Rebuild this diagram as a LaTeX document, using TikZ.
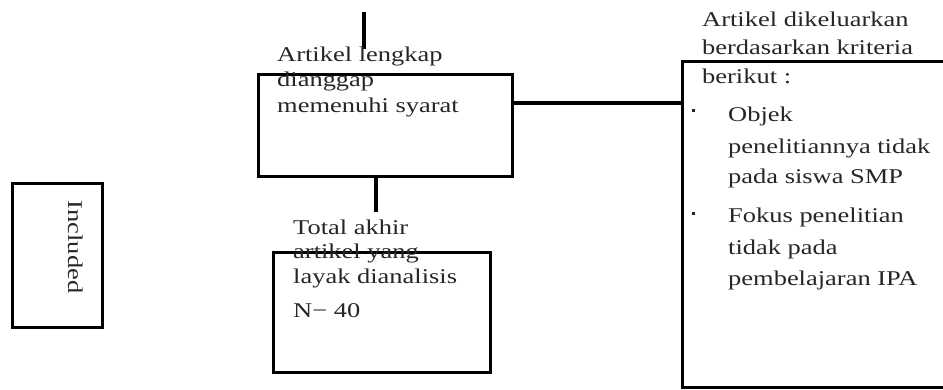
\documentclass[tikz,border=0pt]{standalone}
\usepackage{fontspec}
\setmainfont{Liberation Serif}[FakeStretch=1.26]
\begin{document}
\begin{tikzpicture}[x=1pt,y=-1pt,
  box/.style={draw=black,line width=3pt,inner sep=0pt,outer sep=0pt},
  txt/.style={inner sep=0pt,anchor=base west,text=black!85,font=\fontsize{21}{25}\selectfont},
  conn/.style={draw=black,line width=3.2pt},
  thickconn/.style={draw=black,line width=4.5pt},
  dot/.style={fill=black!85}]
\clip (0,0) rectangle (943,389);
% boxes
\node[box,minimum width=254pt,minimum height=102pt] (b1) at (385,125) {};
\node[box,minimum width=217pt,minimum height=120pt] (b2) at (381.5,312) {};
\node[box,minimum width=90pt,minimum height=144pt] (inc) at (57,255) {};
\node[box,minimum width=268pt,minimum height=326pt] (rb) at (816,224) {};
% connectors
\coordinate (t1) at (364,12);
\coordinate (t2) at (364,49);
\draw[conn] (t1) -- (t2);
\coordinate (rl) at (682,103);
\draw[thickconn] (b1.east |- rl) -- (rb.west |- rl);
\coordinate (m) at (376,212);
\draw[conn] (m |- b1.south) -- (m);
% box 1 text
\node[txt] (a1) at (277,61) {Artikel lengkap};
\node[txt] (a2) at (277,86.5) {dianggap};
\node[txt] (a3) at (277,112) {memenuhi syarat};
% box 2 text
\node[txt] (c1) at (293,234) {Total akhir};
\node[txt] (c2) at (293,258.5) {artikel yang};
\node[txt] (c3) at (293,283) {layak dianalisis};
\node[txt] (c4) at (293,317) {N− 40};
% included
\node[txt,anchor=base,rotate=-90] (inct) at (68,247) {Included};
% right column
\node[txt] (r1) at (702,26) {Artikel dikeluarkan};
\node[txt] (r2) at (702,54.5) {berdasarkan kriteria};
\node[txt] (r3) at (702,83) {berikut :};
\fill[dot] (691.5,108.5) rectangle (694.5,111.5);
\node[txt] (r4) at (728,121) {Objek};
\node[txt] (r5) at (728,153) {penelitiannya tidak};
\node[txt] (r6) at (728,183) {pada siswa SMP};
\fill[dot] (691.5,211.5) rectangle (694.5,214.5);
\node[txt] (r7) at (728,222) {Fokus penelitian};
\node[txt] (r8) at (728,254) {tidak pada};
\node[txt] (r9) at (728,285) {pembelajaran IPA};
\end{tikzpicture}
\end{document}
